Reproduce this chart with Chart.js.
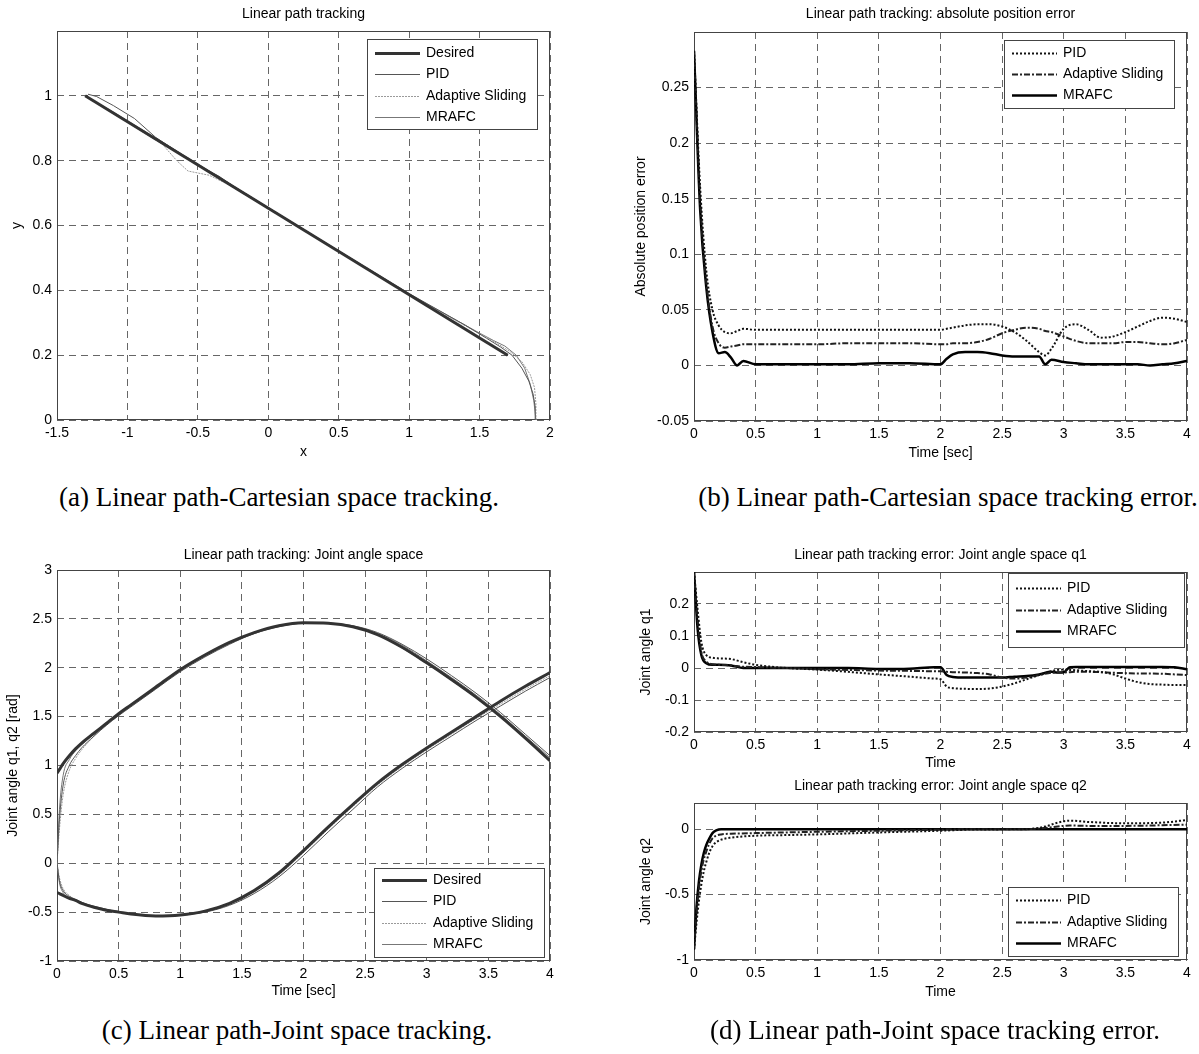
<!DOCTYPE html>
<html>
<head>
<meta charset="utf-8">
<script src="https://cdn.jsdelivr.net/npm/chart.js@4.4.1/dist/chart.umd.min.js"></script>
<style>
  html, body { margin: 0; padding: 0; background: #fff; }
  #page { position: relative; width: 1199px; height: 1054px; overflow: hidden; background: #fff; }
  canvas { position: absolute; }
  .cap { position: absolute; font-family: "Liberation Serif", "Times New Roman", serif; font-size: 27px;
         color: #000; white-space: nowrap; transform: translate(-50%, -50%); }
</style>
</head>
<body>
<div id="page">
  <canvas id="cA" width="600" height="470" style="left:0px;top:0px"></canvas>
  <canvas id="cB" width="599" height="470" style="left:600px;top:0px"></canvas>
  <canvas id="cC" width="600" height="470" style="left:0px;top:540px"></canvas>
  <canvas id="cD1" width="599" height="232" style="left:600px;top:540px"></canvas>
  <canvas id="cD2" width="599" height="240" style="left:600px;top:770px"></canvas>
  <div class="cap" style="left:279px;top:497px">(a) Linear path-Cartesian space tracking.</div>
  <div class="cap" style="left:948px;top:497px">(b) Linear path-Cartesian space tracking error.</div>
  <div class="cap" style="left:297px;top:1030px">(c) Linear path-Joint space tracking.</div>
  <div class="cap" style="left:935px;top:1030px">(d) Linear path-Joint space tracking error.</div>
</div>
<script>
// (a) Cartesian path, x / y
const aDesX = [-1.3, 1.7];
const aDesY = [1.0, 0.2];
const aPidX = [1.9, 1.895, 1.88, 1.85, 1.8, 1.73, 1.65, 1.55, 1.4, 1.0, 0.5, 0.0, -0.25, -0.35, -0.45, -0.6, -0.8, -0.95, -1.1, -1.22, -1.28];
const aPidY = [0.0, 0.04, 0.08, 0.12, 0.16, 0.2, 0.225, 0.252, 0.292, 0.39, 0.522, 0.655, 0.722, 0.752, 0.775, 0.815, 0.872, 0.93, 0.97, 0.998, 1.005];
const aAdsX = [1.9, 1.9, 1.89, 1.86, 1.8, 1.72, 1.64, 1.55, 1.4, 1.0, 0.5, 0.0, -0.3, -0.42, -0.5, -0.57, -0.65, -0.75, -1.0, -1.15, -1.3];
const aAdsY = [0.0, 0.05, 0.1, 0.14, 0.18, 0.21, 0.232, 0.255, 0.29, 0.388, 0.52, 0.652, 0.73, 0.755, 0.762, 0.768, 0.8, 0.85, 0.918, 0.958, 0.998];
const aMrafcX = [1.9, 1.885, 1.86, 1.82, 1.76, 1.68, 1.6, 1.5, 1.0, 0.5, 0.0, -0.5, -0.8, -1.1, -1.3];
const aMrafcY = [0.0, 0.06, 0.11, 0.16, 0.2, 0.228, 0.245, 0.268, 0.388, 0.521, 0.655, 0.79, 0.87, 0.95, 1.0];

// (b) absolute position error
const bTime = [0, 0.05, 0.1, 0.15, 0.2, 0.25, 0.3, 0.35, 0.4, 0.5, 0.75, 1, 1.25, 1.5, 1.75, 2, 2.05, 2.1, 2.2, 2.3, 2.4, 2.5, 2.6, 2.7, 2.8, 2.85, 2.9, 3, 3.1, 3.2, 3.3, 3.4, 3.5, 3.6, 3.7, 3.8, 3.9, 4];
const bPid = [0.283, 0.16, 0.085, 0.05, 0.036, 0.03, 0.029, 0.031, 0.033, 0.032, 0.032, 0.032, 0.032, 0.032, 0.032, 0.032, 0.033, 0.034, 0.036, 0.037, 0.037, 0.035, 0.03, 0.022, 0.012, 0.009, 0.015, 0.033, 0.037, 0.032, 0.025, 0.026, 0.03, 0.035, 0.04, 0.043, 0.042, 0.039];
const bAds = [0.283, 0.15, 0.075, 0.035, 0.02, 0.016, 0.017, 0.018, 0.019, 0.019, 0.019, 0.019, 0.02, 0.02, 0.02, 0.019, 0.019, 0.02, 0.02, 0.021, 0.024, 0.029, 0.032, 0.034, 0.033, 0.031, 0.03, 0.026, 0.022, 0.02, 0.02, 0.02, 0.021, 0.021, 0.02, 0.019, 0.02, 0.023];
const bMrafc = [0.283, 0.14, 0.07, 0.03, 0.011, 0.012, 0.007, 0.0, 0.004, 0.001, 0.001, 0.001, 0.001, 0.002, 0.002, 0.001, 0.006, 0.01, 0.012, 0.012, 0.011, 0.009, 0.008, 0.008, 0.008, 0.001, 0.005, 0.003, 0.002, 0.001, 0.001, 0.001, 0.001, 0.001, 0.0, 0.001, 0.002, 0.004];

// (c) joint angles q1, q2 [rad]
const cTime = [0, 0.02, 0.05, 0.1, 0.15, 0.2, 0.3, 0.4, 0.5, 0.6, 0.8, 1.0, 1.2, 1.4, 1.6, 1.8, 2.0, 2.2, 2.4, 2.6, 2.8, 3.0, 3.2, 3.4, 3.6, 3.8, 4.0];
const cDesQ1 = [0.92, 0.96, 1.02, 1.1, 1.17, 1.23, 1.33, 1.43, 1.53, 1.62, 1.8, 1.98, 2.13, 2.26, 2.36, 2.43, 2.46, 2.455, 2.42, 2.34, 2.21, 2.05, 1.88, 1.7, 1.5, 1.28, 1.05];
const cDesQ2 = [-0.3, -0.31, -0.33, -0.36, -0.38, -0.41, -0.45, -0.48, -0.5, -0.52, -0.54, -0.53, -0.49, -0.41, -0.28, -0.1, 0.13, 0.37, 0.6, 0.82, 1.01, 1.18, 1.34, 1.5, 1.66, 1.81, 1.95];
const cPidQ1 = [0, 0.45, 0.8, 1.0, 1.1, 1.18, 1.3, 1.41, 1.51, 1.6, 1.78, 1.96, 2.11, 2.24, 2.35, 2.42, 2.455, 2.455, 2.43, 2.36, 2.24, 2.09, 1.92, 1.74, 1.54, 1.32, 1.1];
const cAdsQ1 = [0, 0.35, 0.7, 0.95, 1.07, 1.16, 1.3, 1.42, 1.52, 1.61, 1.79, 1.97, 2.12, 2.25, 2.35, 2.43, 2.46, 2.455, 2.42, 2.34, 2.2, 2.04, 1.87, 1.69, 1.49, 1.27, 1.04];
const cMrafcQ1 = [0, 0.55, 0.9, 1.06, 1.15, 1.21, 1.32, 1.43, 1.53, 1.62, 1.8, 1.98, 2.13, 2.26, 2.36, 2.43, 2.46, 2.455, 2.42, 2.35, 2.23, 2.07, 1.9, 1.72, 1.52, 1.3, 1.08];
const cPidQ2 = [0, -0.18, -0.28, -0.34, -0.37, -0.4, -0.44, -0.47, -0.5, -0.52, -0.54, -0.53, -0.5, -0.43, -0.31, -0.14, 0.08, 0.32, 0.55, 0.78, 0.97, 1.14, 1.3, 1.46, 1.61, 1.76, 1.9];
const cAdsQ2 = [0, -0.15, -0.26, -0.33, -0.37, -0.4, -0.45, -0.48, -0.5, -0.52, -0.54, -0.53, -0.49, -0.42, -0.29, -0.12, 0.11, 0.35, 0.58, 0.8, 0.99, 1.16, 1.32, 1.48, 1.63, 1.78, 1.92];
const cMrafcQ2 = [0, -0.2, -0.3, -0.35, -0.38, -0.41, -0.45, -0.48, -0.5, -0.52, -0.54, -0.53, -0.49, -0.41, -0.28, -0.1, 0.13, 0.37, 0.6, 0.82, 1.01, 1.18, 1.34, 1.5, 1.66, 1.81, 1.95];

// (d) joint angle errors, q1 and q2
const dTime1 = [0, 0.03, 0.06, 0.1, 0.15, 0.2, 0.3, 0.4, 0.5, 0.75, 1, 1.25, 1.5, 1.75, 1.95, 2.0, 2.05, 2.1, 2.2, 2.3, 2.4, 2.5, 2.6, 2.7, 2.8, 2.9, 2.95, 3.0, 3.05, 3.1, 3.2, 3.3, 3.4, 3.5, 3.6, 3.7, 3.8, 3.9, 4.0];
const dPid1 = [0.3, 0.18, 0.08, 0.04, 0.032, 0.03, 0.028, 0.018, 0.01, 0.0, -0.005, -0.012, -0.02, -0.027, -0.033, -0.035, -0.058, -0.063, -0.065, -0.066, -0.064, -0.058, -0.048, -0.035, -0.022, -0.01, -0.006, -0.005, -0.006, -0.007, -0.01, -0.012, -0.02, -0.033, -0.044, -0.05, -0.052, -0.053, -0.053];
const dAds1 = [0.3, 0.15, 0.05, 0.02, 0.012, 0.01, 0.008, 0.004, 0.003, 0.0, -0.004, -0.006, -0.008, -0.009, -0.01, -0.01, -0.012, -0.013, -0.014, -0.016, -0.02, -0.03, -0.033, -0.03, -0.022, -0.015, -0.014, -0.014, -0.013, -0.012, -0.012, -0.013, -0.015, -0.016, -0.017, -0.017, -0.018, -0.02, -0.022];
const dMrafc1 = [0.3, 0.12, 0.04, 0.015, 0.01, 0.01, 0.008, 0.0, 0.0, 0.0, 0.0, 0.0, -0.003, -0.002, 0.002, 0.002, -0.022, -0.028, -0.03, -0.03, -0.03, -0.03, -0.027, -0.025, -0.02, -0.012, -0.014, -0.013, 0.002, 0.003, 0.003, 0.003, 0.003, 0.003, 0.003, 0.003, 0.003, 0.002, -0.004];
const dTime2 = [0, 0.02, 0.04, 0.06, 0.08, 0.1, 0.12, 0.15, 0.18, 0.22, 0.3, 0.5, 0.75, 1, 1.5, 2, 2.3, 2.7, 2.85, 2.95, 3.05, 3.2, 3.5, 3.8, 4.0];
const dPid2 = [-0.92, -0.72, -0.55, -0.42, -0.32, -0.25, -0.19, -0.13, -0.1, -0.08, -0.065, -0.05, -0.045, -0.04, -0.025, -0.012, -0.002, 0.0, 0.02, 0.05, 0.065, 0.055, 0.045, 0.05, 0.07];
const dAds2 = [-0.92, -0.65, -0.45, -0.32, -0.23, -0.17, -0.12, -0.07, -0.05, -0.04, -0.035, -0.03, -0.025, -0.02, -0.012, -0.004, 0.0, 0.0, 0.01, 0.02, 0.028, 0.025, 0.025, 0.03, 0.035];
const dMrafc2 = [-0.92, -0.6, -0.4, -0.27, -0.18, -0.12, -0.08, -0.03, -0.01, 0, 0, 0, 0, 0, 0, 0, 0, 0, 0, 0, 0, 0, 0, 0, 0];

const FONT = "'Liberation Sans', Arial, Helvetica, sans-serif";
const LH = 16.8; // 14px * 1.2
Chart.defaults.font.family = FONT;
Chart.defaults.font.size = 14;
Chart.defaults.color = '#000';

const pts = (xs, ys) => xs.map((x, i) => ({ x: x, y: ys[i] }));

// solid frame round the plot area, like a MATLAB axes box
const axesBox = {
  id: 'axesBox',
  beforeDatasetsDraw(chart) {
    const { ctx, chartArea: a } = chart;
    ctx.save();
    ctx.setLineDash([]);
    ctx.strokeStyle = '#444';
    ctx.lineWidth = 1;
    ctx.strokeRect(Math.round(a.left) + 0.5, Math.round(a.top) + 0.5,
                   Math.round(a.right - a.left) - 1, Math.round(a.bottom - a.top) - 1);
    ctx.restore();
  }
};

// boxed legend placed inside the axes
const boxLegend = {
  id: 'boxLegend',
  afterDatasetsDraw(chart, args, o) {
    if (!o || o.w === undefined) return;
    const ctx = chart.ctx;
    const items = chart.data.datasets.filter(d => d.inLegend);
    ctx.save();
    ctx.setLineDash([]);
    ctx.fillStyle = '#fff';
    ctx.fillRect(o.x, o.y, o.w, o.h);
    ctx.strokeStyle = '#444';
    ctx.lineWidth = 1;
    ctx.strokeRect(o.x + 0.5, o.y + 0.5, o.w, o.h);
    ctx.font = '14px ' + FONT;
    ctx.textBaseline = 'middle';
    items.forEach((d, i) => {
      const yy = Math.round(o.y + o.rowTop + i * o.rowGap) + 0.5;
      ctx.strokeStyle = d.borderColor;
      ctx.lineWidth = d.borderWidth;
      ctx.setLineDash(d.borderDash || []);
      ctx.beginPath();
      ctx.moveTo(o.x + 8, yy);
      ctx.lineTo(o.x + 53, yy);
      ctx.stroke();
      ctx.setLineDash([]);
      ctx.fillStyle = '#000';
      ctx.fillText(d.label, o.x + 59, yy);
    });
    ctx.restore();
  }
};

function tickText(hide) {
  return v => hide.some(h => Math.abs(h - v) < 1e-9) ? '' : String(Math.round(v * 1000) / 1000);
}

function axis(g, cfg, horizontal) {
  const boxBottom = g.box.top + g.box.h;
  return {
    type: 'linear',
    min: cfg.min, max: cfg.max,
    ticks: { stepSize: cfg.step, padding: 5, maxRotation: 0, autoSkip: false,
             callback: tickText(cfg.hide || []), font: { size: 14 }, color: '#000' },
    grid: { color: '#666', lineWidth: 1, drawTicks: false },
    border: { display: false, dash: [7, 5] },
    title: { display: true, text: cfg.title, font: { size: 14 }, color: '#000',
             padding: horizontal
               ? { top: 0, bottom: boxBottom - g.xTitleY - LH / 2 }
               : { top: g.yTitleX - g.box.left - LH / 2, bottom: 0 } },
    afterFit: horizontal
      ? s => { s.height = boxBottom - g.area.b; }
      : s => { s.width = g.area.l - g.box.left; }
  };
}

function panel(id, g, datasets, xCfg, yCfg, legend, smooth) {
  const lg = Object.assign({}, legend, { x: legend.x - g.box.left, y: legend.y - g.box.top });
  new Chart(document.getElementById(id), {
    type: 'scatter',
    data: { datasets: datasets },
    options: {
      responsive: false,
      animation: false,
      events: [],
      layout: { padding: { left: 0, top: 0, bottom: 0, right: g.box.left + g.box.w - g.area.r } },
      elements: {
        point: { radius: 0, hoverRadius: 0 },
        line: { fill: false, tension: 0, cubicInterpolationMode: smooth ? 'monotone' : 'default' }
      },
      plugins: {
        legend: { display: false },
        tooltip: { enabled: false },
        title: { display: true, fullSize: false, text: g.title, color: '#000',
                 font: { size: 14, weight: 'normal' },
                 padding: { top: g.titleY - g.box.top - LH / 2, bottom: g.area.t - g.titleY - LH / 2 } },
        boxLegend: lg
      },
      scales: { x: axis(g, xCfg, true), y: axis(g, yCfg, false) }
    },
    plugins: [axesBox, boxLegend]
  });
}

// styles: tracking plots (thin grey lines) and error plots (thick black patterns)
const trk = {
  des: { borderColor: '#333', borderWidth: 3 },
  pid: { borderColor: '#555', borderWidth: 1 },
  ads: { borderColor: '#9a9a9a', borderWidth: 1, borderDash: [2, 1] },
  mrafc: { borderColor: '#777', borderWidth: 1 }
};
const err = {
  pid: { borderColor: '#111', borderWidth: 2, borderDash: [2, 2] },
  ads: { borderColor: '#222', borderWidth: 2, borderDash: [6, 2, 2, 2] },
  mrafc: { borderColor: '#000', borderWidth: 2.5 }
};
const ds = (label, data, style, inLegend) =>
  Object.assign({ label: label, data: data, showLine: true, inLegend: inLegend }, style);

// (a)
panel('cA', {
  box: { left: 0, top: 0, w: 600, h: 470 }, area: { l: 57, t: 31, r: 550, b: 420 },
  title: 'Linear path tracking', titleY: 14, xTitleY: 452, yTitleX: 17
}, [
  ds('Desired', pts(aDesX, aDesY), trk.des, true),
  ds('PID', pts(aPidX, aPidY), trk.pid, true),
  ds('Adaptive Sliding', pts(aAdsX, aAdsY), trk.ads, true),
  ds('MRAFC', pts(aMrafcX, aMrafcY), trk.mrafc, true)
], { min: -1.5, max: 2, step: 0.5, title: 'x' },
   { min: 0, max: 1.2, step: 0.2, hide: [1.2], title: 'y' },
   { x: 367, y: 39, w: 170, h: 90, rowTop: 14, rowGap: 21.3 }, false);

// (b)
panel('cB', {
  box: { left: 600, top: 0, w: 599, h: 470 }, area: { l: 694, t: 32, r: 1187, b: 421 },
  title: 'Linear path tracking: absolute position error', titleY: 14, xTitleY: 453, yTitleX: 641
}, [
  ds('PID', pts(bTime, bPid), err.pid, true),
  ds('Adaptive Sliding', pts(bTime, bAds), err.ads, true),
  ds('MRAFC', pts(bTime, bMrafc), err.mrafc, true)
], { min: 0, max: 4, step: 0.5, title: 'Time [sec]' },
   { min: -0.05, max: 0.3, step: 0.05, hide: [0.3], title: 'Absolute position error' },
   { x: 1004, y: 40, w: 170, h: 68, rowTop: 13, rowGap: 21 }, true);

// (c)
panel('cC', {
  box: { left: 0, top: 540, w: 600, h: 470 }, area: { l: 57, t: 570, r: 550, b: 961 },
  title: 'Linear path tracking: Joint angle space', titleY: 555, xTitleY: 991, yTitleX: 13
}, [
  ds('Desired', pts(cTime, cDesQ1), trk.des, true),
  ds('Desired q2', pts(cTime, cDesQ2), trk.des, false),
  ds('PID', pts(cTime, cPidQ1), trk.pid, true),
  ds('PID q2', pts(cTime, cPidQ2), trk.pid, false),
  ds('Adaptive Sliding', pts(cTime, cAdsQ1), trk.ads, true),
  ds('Adaptive Sliding q2', pts(cTime, cAdsQ2), trk.ads, false),
  ds('MRAFC', pts(cTime, cMrafcQ1), trk.mrafc, true),
  ds('MRAFC q2', pts(cTime, cMrafcQ2), trk.mrafc, false)
], { min: 0, max: 4, step: 0.5, title: 'Time [sec]' },
   { min: -1, max: 3, step: 0.5, title: 'Joint angle q1, q2 [rad]' },
   { x: 374, y: 868, w: 170, h: 89, rowTop: 12, rowGap: 21.3 }, true);

// (d) q1
panel('cD1', {
  box: { left: 600, top: 540, w: 599, h: 232 }, area: { l: 694, t: 572, r: 1187, b: 732 },
  title: 'Linear path tracking error: Joint angle space q1', titleY: 555, xTitleY: 763, yTitleX: 646
}, [
  ds('PID', pts(dTime1, dPid1), err.pid, true),
  ds('Adaptive Sliding', pts(dTime1, dAds1), err.ads, true),
  ds('MRAFC', pts(dTime1, dMrafc1), err.mrafc, true)
], { min: 0, max: 4, step: 0.5, title: 'Time' },
   { min: -0.2, max: 0.3, step: 0.1, hide: [0.3], title: 'Joint angle q1' },
   { x: 1008, y: 573, w: 176, h: 74, rowTop: 15, rowGap: 21.5 }, true);

// (d) q2
panel('cD2', {
  box: { left: 600, top: 770, w: 599, h: 240 }, area: { l: 694, t: 803, r: 1187, b: 960 },
  title: 'Linear path tracking error: Joint angle space q2', titleY: 786, xTitleY: 992, yTitleX: 646
}, [
  ds('PID', pts(dTime2, dPid2), err.pid, true),
  ds('Adaptive Sliding', pts(dTime2, dAds2), err.ads, true),
  ds('MRAFC', pts(dTime2, dMrafc2), err.mrafc, true)
], { min: 0, max: 4, step: 0.5, title: 'Time' },
   { min: -1, max: 0.2, step: 0.5, hide: [0.2], title: 'Joint angle q2' },
   { x: 1008, y: 887, w: 170, h: 69, rowTop: 13, rowGap: 21.5 }, true);
</script>
</body>
</html>
